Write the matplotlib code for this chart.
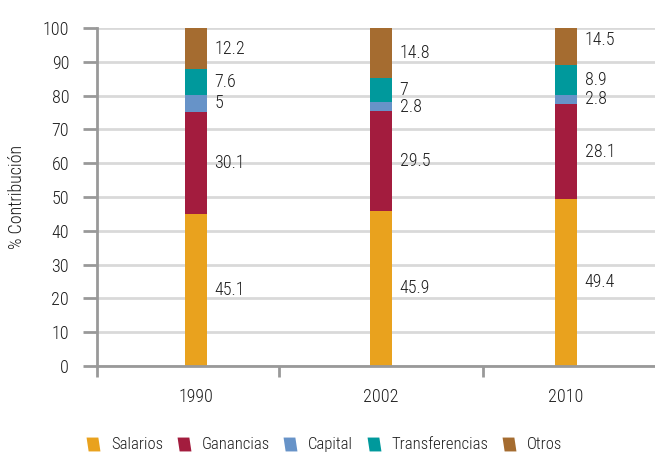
import numpy as np
import matplotlib
matplotlib.use("Agg")
import matplotlib.pyplot as plt
from matplotlib.lines import Line2D
from matplotlib.path import Path
from matplotlib import font_manager

# contribution shares by year
years = ["1990", "2002", "2010"]
series = ["Salarios", "Ganancias", "Capital", "Transferencias", "Otros"]
salarios = [45.1, 45.9, 49.4]
ganancias = [30.1, 29.5, 28.1]
capital = [5, 2.8, 2.8]
transferencias = [7.6, 7, 8.9]
otros = [12.2, 14.8, 14.5]
colors = ["#E9A21E", "#A31C3E", "#6793C8", "#00999C", "#A56C30"]

installed = {f.name for f in font_manager.fontManager.ttflist}
narrow = [f for f in ["Roboto Condensed", "Liberation Sans Narrow", "Arial Narrow",
                      "Liberation Sans"] if f in installed]
plt.rcParams['font.family'] = narrow[:1] + ['DejaVu Sans']
plt.rcParams['font.weight'] = 'light'
plt.rcParams['axes.labelweight'] = 'light'
txt = "#1e1e1e"
plt.rcParams['text.color'] = txt
plt.rcParams['axes.labelcolor'] = txt
plt.rcParams['xtick.labelcolor'] = txt
plt.rcParams['ytick.labelcolor'] = txt

fig = plt.figure(figsize=(6.55, 4.54), dpi=100)
ax = fig.add_axes([0.148, 0.194, 0.852, 0.744])

x = np.arange(len(years))
bottom = np.zeros(len(years))
values = [salarios, ganancias, capital, transferencias, otros]
for vals, col, name in zip(values, colors, series):
    vals = np.array(vals, dtype=float)
    ax.bar(x, vals, 0.12, bottom=bottom, color=col, zorder=3, label=name)
    for xi, b, v in zip(x, bottom, vals):
        ax.text(xi + 0.1, b + v / 2, f"{v:g}", va="center", ha="left",
                fontsize=13)
    bottom += vals

ax.set_ylim(0, 100)
ax.set_xlim(-0.535, 2.48)
ax.set_yticks(range(0, 101, 10))
ax.set_xticks(x)
ax.set_xticklabels(years)
ax.set_xticks([-0.535, 0.45, 1.55], minor=True)
ax.tick_params(axis="x", which="major", length=0, pad=16, labelsize=13)
ax.tick_params(axis="x", which="minor", length=8, width=2, color="#999999")
ax.tick_params(axis="y", length=10, width=2, color="#999999", labelsize=13, pad=10)
ax.yaxis.grid(True, color="#d9d9d9", lw=2, zorder=0)

for s in ["top", "right"]:
    ax.spines[s].set_visible(False)
ax.spines["left"].set_color("#999999")
ax.spines["left"].set_linewidth(2)
ax.spines["bottom"].set_color("#999999")
ax.spines["bottom"].set_linewidth(2)
ax.spines["bottom"].set_zorder(4)

ax.set_ylabel("% Contribución", fontsize=13)
ax.yaxis.set_label_coords(-0.128, 0.5)

# slanted square markers for the legend
slant = Path([(-0.7, -1), (1, -1), (0.7, 1), (-1, 1), (-0.7, -1)],
             [Path.MOVETO, Path.LINETO, Path.LINETO, Path.LINETO, Path.CLOSEPOLY])
handles = [Line2D([], [], marker=slant, ls="", markersize=10, color=c,
                  markeredgewidth=0) for c in colors]
fig.legend(handles, series, loc="center", bbox_to_anchor=(0.494, 0.02),
           ncol=5, frameon=False, fontsize=12, handletextpad=0.55,
           columnspacing=0.75, handlelength=1.0)

fig.savefig("out.png", dpi=100)
